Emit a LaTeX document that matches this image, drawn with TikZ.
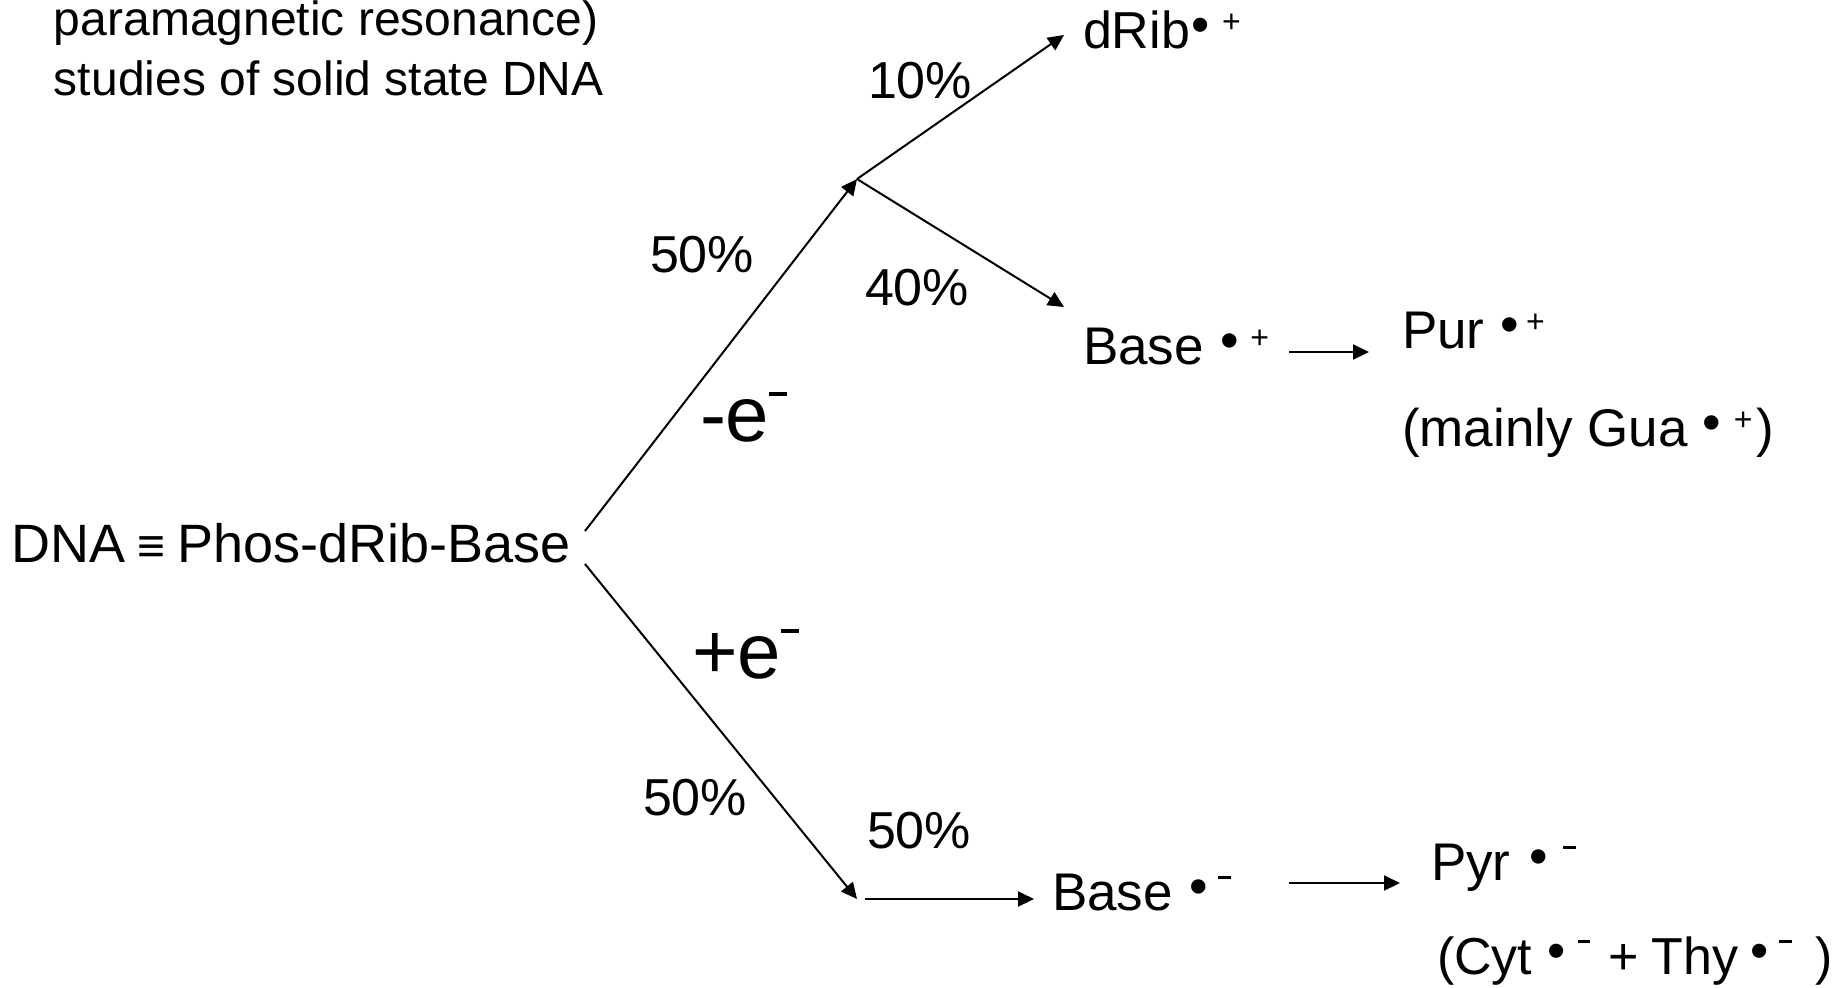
\documentclass[tikz,border=0pt]{standalone}
\usepackage{fontspec}
\usepackage{graphicx}
\setmainfont{Liberation Sans}
\usetikzlibrary{arrows.meta}
\tikzset{
  lbl/.style={anchor=base west, inner sep=0pt, outer sep=0pt, font=\fontsize{26}{30}\selectfont},
  lblb/.style={anchor=base west, inner sep=0pt, outer sep=0pt, font=\fontsize{26.5}{30}\selectfont},
  bigl/.style={anchor=base west, inner sep=0pt, outer sep=0pt, font=\fontsize{39}{44}\selectfont},
  note/.style={anchor=base west, inner sep=0pt, outer sep=0pt, font=\fontsize{24}{30}\selectfont},
  conn/.style={line width=1pt, -{Triangle[length=8pt,width=7.5pt]}},
}
\newcommand{\bul}{\raisebox{3pt}{•}}
\newcommand{\supplus}{\raisebox{7.8pt}{\fontsize{16}{16}\selectfont +}}
\newcommand{\supminus}{\raisebox{15.5pt}{\rule{6.5pt}{1.5pt}}}
\newcommand{\bigminus}{\raisebox{22.5pt}{\rule{9pt}{2pt}}}
\begin{document}
\begin{tikzpicture}[x=0.5pt,y=-0.5pt]
\useasboundingbox (0,0) rectangle (1843,987);
% texts
\node[note] (t1) at (54,35) {paramagnetic resonance)};
\node[note] (t2) at (54,95) {studies of solid state DNA};
\node[anchor=base west, inner sep=0pt, font=\fontsize{27}{30}\selectfont] (dna) at (11,562)
  {DNA\makebox[26pt][c]{\fontsize{24}{24}\selectfont ≡}Phos-dRib-Base};
\node[lbl] (drib) at (1083,48) {dRib\hspace{1pt}\bul\hspace{6pt}\supplus};
\node[lbl] (p10) at (868,98) {10\%};
\node[lbl] (p50a) at (650,272) {50\%};
\node[lbl] (p40) at (865,305) {40\%};
\node[bigl] (me) at (700,441) {-e\bigminus};
\node[lblb] (baseP) at (1083,364) {Base\hspace{8.5pt}\bul\hspace{5.5pt}\supplus};
\node[lblb] (pur) at (1402,348) {Pur\hspace{8pt}\bul\hspace{3.5pt}\supplus};
\node[lblb] (gua) at (1402,446) {(mainly Gua \bul\hspace{6.5pt}\supplus\hspace{2pt})};
\node[bigl] (pe) at (692,678) {+e\bigminus};
\node[lbl] (p50b) at (643,815) {50\%};
\node[lbl] (p50c) at (867,848) {50\%};
\node[lblb] (baseM) at (1052,910) {Base\hspace{8.4pt}\bul\hspace{5pt}\supminus};
\node[lblb] (pyr) at (1431,880) {Pyr\hspace{9.5pt}\bul\hspace{7.5pt}\supminus};
\node[lbl] (cyt) at (1437,974) {(Cyt\hspace{7.5pt}\bul\hspace{6pt}\rule[15.5pt]{6pt}{1.5pt}\hspace{9.5pt}+\hspace{6.5pt}Thy\hspace{6pt}\bul\hspace{5pt}\rule[15.5pt]{6.5pt}{1.5pt}\hspace{12pt})};
% connector end points
\coordinate (s1) at (585,531);
\coordinate (s2) at (585,564);
\coordinate (j1) at (857,179);
\coordinate (e10) at (1064,35);
\coordinate (e40) at (1064,307);
\coordinate (j2) at (857,899);
\coordinate (s3) at (865,899);
\coordinate (e50) at (1034,899);
\coordinate (a1) at (1289,352);
\coordinate (a1e) at (1369,352);
\coordinate (a2) at (1289,883);
\coordinate (a2e) at (1400,883);
% connectors
\draw[conn] (s1) -- (j1);
\draw[conn] (j1) -- (e10);
\draw[conn] (j1) -- (e40);
\draw[conn] (s2) -- (j2);
\draw[conn] (s3) -- (e50);
\draw[conn] (a1) -- (a1e);
\draw[conn] (a2) -- (a2e);
\end{tikzpicture}
\end{document}
